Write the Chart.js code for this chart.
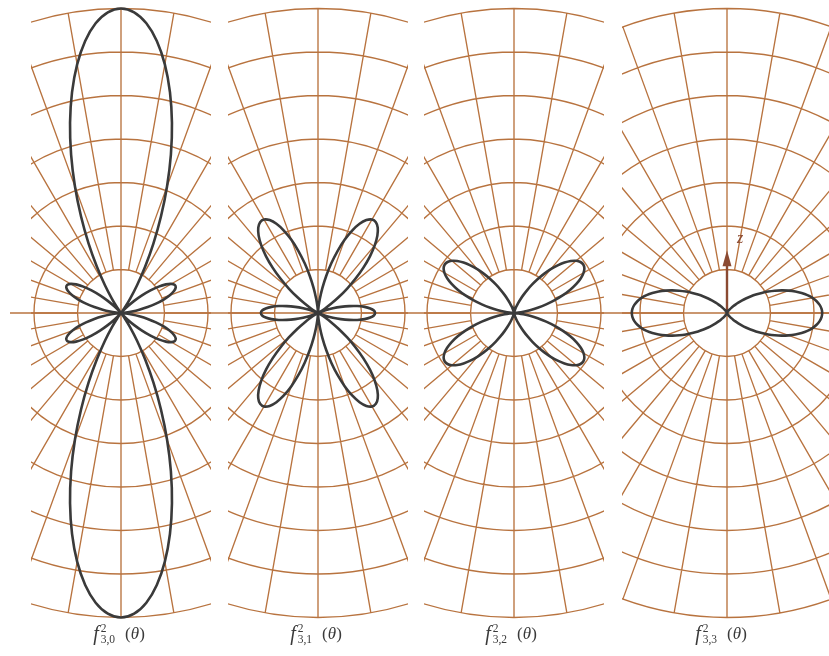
<!DOCTYPE html>
<html>
<head>
<meta charset="utf-8">
<script src="https://cdn.jsdelivr.net/npm/chart.js@4.4.1/dist/chart.umd.min.js"></script>
<style>
  html, body { margin: 0; padding: 0; background: #fff; }
  #wrap { position: relative; width: 829px; height: 656px; overflow: hidden; }
  #wrap canvas { position: absolute; top: 0; }
  .lbl {
    position: absolute; top: 622px; transform: translateX(-50%);
    font-family: "Liberation Serif", "DejaVu Serif", serif; font-size: 20px;
    color: #3a3a3a; white-space: nowrap; display: flex; align-items: center;
  }
  .ix { display: inline-flex; flex-direction: column; font-size: 11.5px; line-height: 11px; margin-left: 2px; }
  .arg { margin-left: 10px; font-size: 17px; }
  .zlab { position: absolute; left: 737px; top: 229px; font: italic 16px "Liberation Serif", serif; color: #8b4a32; }
</style>
</head>
<body>
<div id="wrap"></div>
<script>
// polar angle from the z axis, degrees (values repeat by symmetry for the other quadrants)
const thetaDeg = [0, 2.5, 5, 7.5, 10, 12.5, 15, 17.5, 20, 22.5, 25, 27.5, 30, 32.5, 35, 37.5, 40, 42.5, 45,
  47.5, 50, 52.5, 55, 57.5, 60, 62.5, 65, 67.5, 70, 72.5, 75, 77.5, 80, 82.5, 85, 87.5, 90];

const f30 = [3.500, 3.460, 3.343, 3.154, 2.902, 2.600, 2.263, 1.907, 1.547, 1.200, 0.881, 0.600, 0.369, 0.193,
  0.074, 0.012, 0.002, 0.038, 0.109, 0.206, 0.315, 0.427, 0.529, 0.612, 0.670, 0.698, 0.694, 0.659, 0.597,
  0.514, 0.416, 0.314, 0.214, 0.127, 0.058, 0.015, 0.000];
const f31 = [0.000, 0.020, 0.078, 0.171, 0.293, 0.436, 0.591, 0.747, 0.895, 1.026, 1.131, 1.204, 1.241, 1.238,
  1.197, 1.121, 1.014, 0.884, 0.738, 0.586, 0.438, 0.301, 0.183, 0.092, 0.031, 0.002, 0.006, 0.040, 0.100,
  0.179, 0.271, 0.367, 0.459, 0.540, 0.603, 0.643, 0.656];
const f32 = [0.000, 0.000, 0.000, 0.002, 0.006, 0.014, 0.028, 0.049, 0.079, 0.120, 0.172, 0.235, 0.308, 0.389,
  0.477, 0.567, 0.657, 0.743, 0.820, 0.885, 0.934, 0.963, 0.972, 0.959, 0.923, 0.866, 0.791, 0.700, 0.599,
  0.491, 0.383, 0.279, 0.186, 0.108, 0.049, 0.012, 0.000];
const f33 = [0.000, 0.000, 0.000, 0.000, 0.000, 0.000, 0.000, 0.001, 0.002, 0.003, 0.006, 0.011, 0.017, 0.026,
  0.039, 0.056, 0.077, 0.104, 0.137, 0.176, 0.221, 0.273, 0.330, 0.394, 0.461, 0.533, 0.606, 0.680, 0.753,
  0.823, 0.888, 0.947, 0.998, 1.039, 1.069, 1.088, 1.094];

const gridRadii = [0.5, 1, 1.5, 2, 2.5, 3, 3.5];
const spokeAngles = [0, 10, 20, 30, 40, 50, 60, 70, 80, 90, 100, 110, 120, 130, 140, 150, 160, 170,
  180, 190, 200, 210, 220, 230, 240, 250, 260, 270, 280, 290, 300, 310, 320, 330, 340, 350];
const panelIndex = ['3,0', '3,1', '3,2', '3,3'];

const PX = 87;          // pixels per unit
const CY = 313;         // pixel row of the origin
const H = 656;
const GRID = '#b8733f';
const CURVE = '#3a3a3a';

const panels = [
  { vals: f30, left: 0,   width: 219, cx: 121, half: 90, axisFrom: 10, label: 119 },
  { vals: f31, left: 219, width: 197, cx: 318, half: 90, label: 316 },
  { vals: f32, left: 416, width: 198, cx: 514, half: 90, label: 511 },
  { vals: f33, left: 614, width: 215, cx: 727, half: 105, arrow: 0.72, label: 721 },
];

// walk the full circle, folding the angle back into 0..90 by symmetry
function lobePoints(vals) {
  const q = vals.length - 1;
  const n = q * 4;
  const step = thetaDeg[1] - thetaDeg[0];
  const start = vals.indexOf(Math.min(...vals));
  const pts = [];
  for (let k = 0; k <= n; k++) {
    const i = (start + k) % n;
    let j = i % (2 * q);
    if (j > q) j = 2 * q - j;
    const r = vals[j];
    const a = i * step * Math.PI / 180;
    pts.push({ x: r * Math.sin(a), y: r * Math.cos(a) });
  }
  return pts;
}

const polarGrid = {
  id: 'polarGrid',
  beforeDatasetsDraw(chart, args, opts) {
    const { ctx, chartArea, scales: { x, y } } = chart;
    const x0 = x.getPixelForValue(0), y0 = y.getPixelForValue(0);
    const px = v => x.getPixelForValue(v) - x0;
    const rIn = px(gridRadii[0]), rOut = px(gridRadii[gridRadii.length - 1]);
    ctx.save();
    ctx.strokeStyle = GRID;
    ctx.lineWidth = 1.35;
    ctx.beginPath();
    ctx.rect(x.getPixelForValue(-opts.half), chartArea.top, px(2 * opts.half), chartArea.bottom - chartArea.top);
    ctx.clip();
    ctx.beginPath();
    gridRadii.forEach(r => {
      ctx.moveTo(x0 + px(r), y0);
      ctx.arc(x0, y0, px(r), 0, Math.PI * 2);
    });
    spokeAngles.forEach(d => {
      const a = d * Math.PI / 180;
      ctx.moveTo(x0 + rIn * Math.sin(a), y0 - rIn * Math.cos(a));
      ctx.lineTo(x0 + rOut * Math.sin(a), y0 - rOut * Math.cos(a));
    });
    ctx.moveTo(x0, y0 - rOut);
    ctx.lineTo(x0, y0 + rOut);
    ctx.stroke();
    ctx.restore();

    // the equator runs on across the gaps between panels
    ctx.save();
    ctx.strokeStyle = GRID;
    ctx.lineWidth = 1.35;
    ctx.beginPath();
    const from = opts.axisFrom !== undefined ? x.getPixelForValue(opts.axisFrom) : chartArea.left;
    ctx.moveTo(from, y0);
    ctx.lineTo(chartArea.right, y0);
    ctx.stroke();

    if (opts.arrow) {
      const tip = y.getPixelForValue(opts.arrow);
      ctx.strokeStyle = '#8b4a32';
      ctx.fillStyle = '#8b4a32';
      ctx.lineWidth = 2.4;
      ctx.beginPath();
      ctx.moveTo(x0, y0);
      ctx.lineTo(x0, tip + 10);
      ctx.stroke();
      ctx.beginPath();
      ctx.moveTo(x0, tip);
      ctx.lineTo(x0 - 4.5, tip + 16);
      ctx.lineTo(x0 + 4.5, tip + 16);
      ctx.closePath();
      ctx.fill();
    }
    ctx.restore();
  }
};

const wrap = document.getElementById('wrap');

panels.forEach((p, idx) => {
  const canvas = document.createElement('canvas');
  canvas.width = p.width;
  canvas.height = H;
  canvas.style.left = p.left + 'px';
  wrap.appendChild(canvas);

  const cxRel = p.cx - p.left;
  new Chart(canvas.getContext('2d'), {
    type: 'scatter',
    data: {
      datasets: [{
        data: lobePoints(p.vals),
        showLine: true,
        borderColor: CURVE,
        borderWidth: 2.6,
        pointRadius: 0,
        tension: 0.35,
      }]
    },
    options: {
      responsive: false,
      animation: false,
      devicePixelRatio: 1,
      layout: { padding: 0 },
      scales: {
        x: { type: 'linear', display: false, min: -cxRel / PX, max: (p.width - cxRel) / PX },
        y: { type: 'linear', display: false, min: -(H - CY) / PX, max: CY / PX },
      },
      plugins: {
        legend: { display: false },
        tooltip: { enabled: false },
        polarGrid: {
          half: p.half / PX,
          axisFrom: p.axisFrom !== undefined ? (p.axisFrom - p.cx) / PX : undefined,
          arrow: p.arrow,
        },
      },
    },
    plugins: [polarGrid],
  });

  const lbl = document.createElement('div');
  lbl.className = 'lbl';
  lbl.style.left = p.label + 'px';
  lbl.innerHTML = '<i>f</i><span class="ix"><span>2</span><span>' + panelIndex[idx] +
    '</span></span><span class="arg">(<i>θ</i>)</span>';
  wrap.appendChild(lbl);
});

const z = document.createElement('div');
z.className = 'zlab';
z.textContent = 'z';
wrap.appendChild(z);
</script>
</body>
</html>
